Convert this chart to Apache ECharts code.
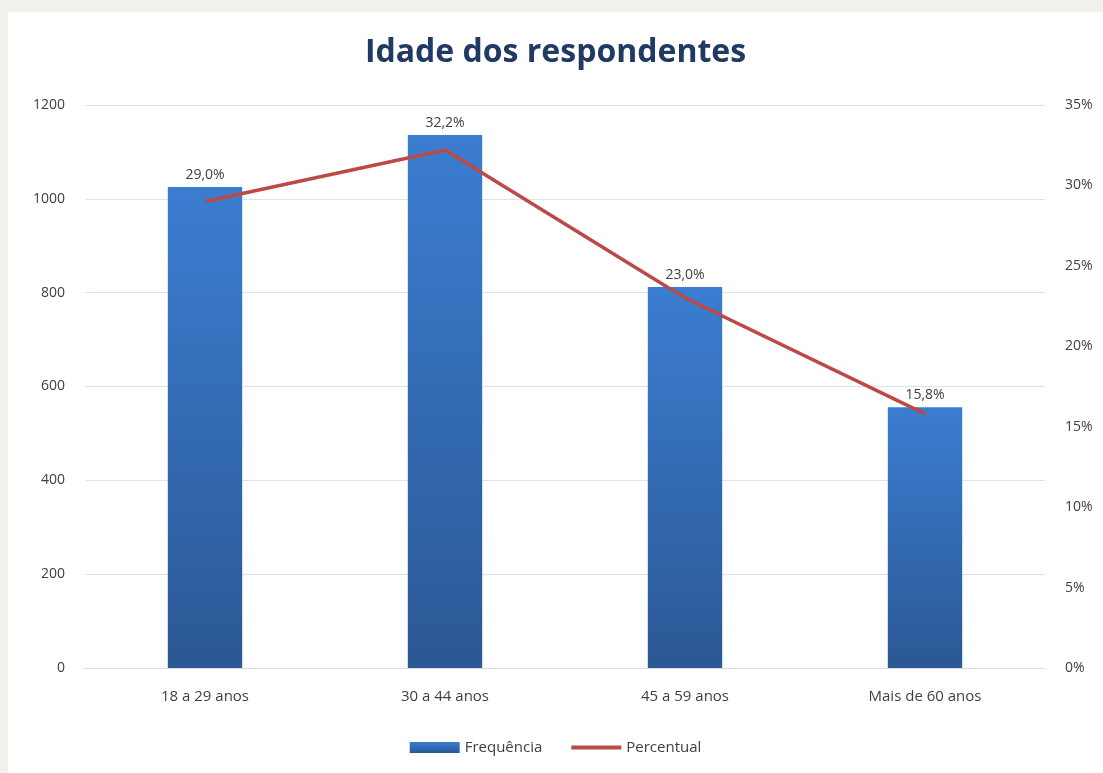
<!DOCTYPE html>
<html>
<head>
<meta charset="utf-8">
<script src="https://cdn.jsdelivr.net/npm/echarts@6/dist/echarts.min.js"></script>
<style>
    html, body { margin: 0; padding: 0; background: #f3f1ed; }
    #chart {
        position: absolute;
        left: 8px;
        top: 12px;
        width: 1095px;
        height: 761px;
        background: #ffffff;
    }
</style>
</head>
<body>
<div id="chart"></div>
<script>
// faixas etárias
const categorias = ['18 a 29 anos', '30 a 44 anos', '45 a 59 anos', 'Mais de 60 anos']
const frequencia = [1025, 1136, 812, 556]
const percentual = [29.0, 32.2, 23.0, 15.8]
const ticksEsq = [0, 200, 400, 600, 800, 1000, 1200]
const ticksDir = [0, 5, 10, 15, 20, 25, 30, 35]

const fonte = '"Open Sans", Lato, sans-serif'
let myChart = echarts.init(document.getElementById('chart'))

let option = {
    title: {
        text: 'Idade dos respondentes',
        left: 'center',
        top: 20,
        textStyle: {
            color: '#203a63',
            fontSize: 32,
            fontWeight: 'bold',
            fontFamily: fonte
        }
    },
    legend: {
        bottom: 13,
        left: 'center',
        itemGap: 27,
        itemWidth: 50,
        itemHeight: 11,
        textStyle: { color: '#404040', fontSize: 15, fontFamily: fonte },
        data: [
            { name: 'Frequência', icon: 'rect' },
            { name: 'Percentual', itemStyle: { opacity: 0 }, lineStyle: { width: 4 } }
        ]
    },
    grid: {
        left: 77,
        right: 58,
        top: 93,
        bottom: 105
    },
    xAxis: {
        type: 'category',
        data: categorias,
        axisLine: { show: true, lineStyle: { color: '#d9dee6' } },
        axisTick: { show: false },
        axisLabel: { color: '#404040', fontSize: 15, margin: 21, fontFamily: fonte }
    },
    yAxis: [{
        type: 'value',
        min: ticksEsq[0],
        max: ticksEsq[ticksEsq.length - 1],
        interval: 200,
        axisLine: { show: false },
        axisTick: { show: false },
        axisLabel: {
            color: '#404040', fontSize: 14, margin: 20, fontFamily: fonte,
            formatter: function (v) { return String(v) }
        },
        splitLine: { lineStyle: { color: '#dde3ea' } }
    }, {
        type: 'value',
        min: ticksDir[0],
        max: ticksDir[ticksDir.length - 1],
        interval: 5,
        axisLine: { show: false },
        axisTick: { show: false },
        axisLabel: {
            color: '#404040', fontSize: 14, margin: 20, fontFamily: fonte,
            formatter: '{value}%'
        },
        splitLine: { show: false }
    }],
    series: [{
        name: 'Frequência',
        type: 'bar',
        barWidth: '31%',
        data: frequencia,
        itemStyle: {
            color: new echarts.graphic.LinearGradient(0, 0, 0, 1, [
                { offset: 0, color: '#3b7dd1' },
                { offset: 1, color: '#2b5894' }
            ])
        },
        label: {
            show: true,
            position: 'top',
            distance: 5,
            color: '#404040',
            fontSize: 14,
            fontFamily: fonte,
            formatter: function (p) {
                return percentual[p.dataIndex].toFixed(1).replace('.', ',') + '%'
            }
        }
    }, {
        name: 'Percentual',
        type: 'line',
        yAxisIndex: 1,
        data: percentual,
        symbol: 'none',
        lineStyle: { color: '#bb4a47', width: 3.5 },
        itemStyle: { color: '#bb4a47' }
    }]
}
myChart.setOption(option)
</script>
</body>
</html>
